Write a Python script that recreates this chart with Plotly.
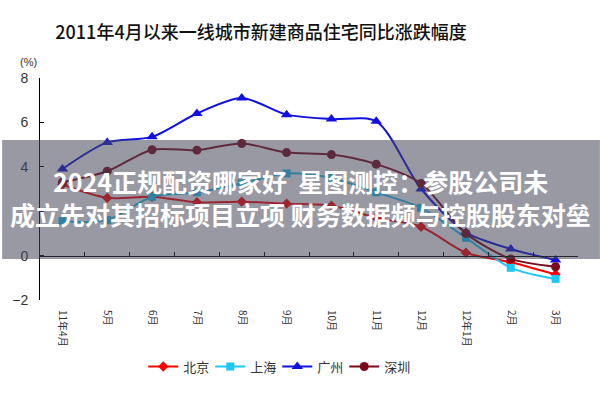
import plotly.graph_objects as go

months = ['11年4月', '5月', '6月', '7月', '8月', '9月', '10月', '11月', '12月', '12年1月', '2月', '3月']
beijing = [3.2, 2.6, 2.65, 2.4, 2.43, 2.34, 2.25, 1.7, 1.3, 0.13, -0.3, -0.85]
shanghai = [1.55, 1.6, 2.65, 2.85, 3.25, 3.7, 3.5, 2.85, 2.15, 0.8, -0.55, -1.05]
guangzhou = [3.9, 5.1, 5.35, 6.4, 7.1, 6.35, 6.15, 6.05, 3.0, 1.05, 0.3, -0.2]
shenzhen = [3.3, 3.8, 4.77, 4.75, 5.05, 4.64, 4.55, 4.12, 3.25, 1.0, -0.15, -0.5]
y_ticks = [-2, 0, 2, 4, 6, 8]
y_tick_labels = ['−2', '0', '', '4', '6', '8']

title_text = '2011年4月以来一线城市新建商品住宅同比涨跌幅度'
banner_lines = ['2024正规配资哪家好  星图测控：参股公司未',
                '成立先对其招标项目立项 财务数据频与控股股东对垒']

CJK = 'Noto Sans CJK SC'

fig = go.Figure()
series = [
    ('北京', beijing, '#ff0000', 'diamond', 8),
    ('上海', shanghai, '#1ec8f5', 'square', 8),
    ('广州', guangzhou, '#1010e0', 'triangle-up', 10),
    ('深圳', shenzhen, '#7a0a1a', 'circle', 9),
]
for name, vals, color, sym, size in series:
    fig.add_trace(go.Scatter(
        x=months, y=vals, name=name, mode='lines+markers',
        line=dict(color=color, width=2, shape='spline', smoothing=0.8),
        marker=dict(symbol=sym, size=size, color=color),
    ))

# dummy trace to host the zero-line axis with tick marks
fig.add_trace(go.Scatter(x=[None], y=[None], xaxis='x2', yaxis='y',
                         showlegend=False, hoverinfo='skip'))

n = len(months)
fig.update_layout(
    width=600, height=400,
    margin=dict(l=38, r=22, t=78, b=100),
    paper_bgcolor='white', plot_bgcolor='white',
    font=dict(family=CJK, color='#333'),
    title=dict(text=title_text, x=0.435, xanchor='center', y=0.9175, yanchor='middle',
               font=dict(family=CJK, size=18, color='#111', weight=500)),
    xaxis=dict(type='category', range=[-0.5, n - 0.5], showline=False, ticks='',
               tickangle=90, tickfont=dict(size=10, family=CJK, color='#333'),
               ticklabelstandoff=9, showgrid=False, zeroline=False),
    xaxis2=dict(overlaying='x', anchor='free', position=0.2, range=[-0.5, n - 0.5],
                showline=True, linecolor='black', linewidth=1, ticks='inside', ticklen=4,
                tickcolor='black', tickvals=[i - 0.5 for i in range(n + 1)],
                showticklabels=False, showgrid=False, zeroline=False),
    yaxis=dict(range=[-2, 8], tickvals=y_ticks, ticktext=y_tick_labels, showline=True,
               linecolor='black', linewidth=1,
               ticks='inside', ticklen=4, tickcolor='black', showgrid=False, zeroline=False,
               tickfont=dict(size=14, family='Liberation Sans', color='#333'),
               ticklabelstandoff=8),
    legend=dict(orientation='h', x=0.441, xanchor='center', y=-0.30, yanchor='middle',
                entrywidth=22, entrywidthmode='pixels',
                font=dict(size=13, family=CJK, color='#333'), bgcolor='rgba(0,0,0,0)'),
    shapes=[dict(type='rect', xref='paper', yref='paper', x0=-0.0704, x1=1.0407,
                 y0=0.1847, y1=0.7207, fillcolor='rgba(70,70,90,0.55)', line=dict(width=0),
                 layer='above')],
    annotations=[
        dict(text='(%)', xref='paper', yref='paper', x=-0.022, y=1.072, showarrow=False,
             xanchor='center', yanchor='middle',
             font=dict(size=11, family='Liberation Sans', color='#333')),
        dict(text='<b>' + banner_lines[0] + '</b>', xref='paper', yref='paper', x=0.485, y=0.536,
             xanchor='center', yanchor='middle',
             showarrow=False, font=dict(size=25, family=CJK, color='white')),
        dict(text='<b>' + banner_lines[1] + '</b>', xref='paper', yref='paper', x=0.485, y=0.387,
             xanchor='center', yanchor='middle',
             showarrow=False, font=dict(size=25, family=CJK, color='white')),
    ],
)

fig.write_html('out.html', config={'displayModeBar': False},
               post_script="document.body.style.margin='0';document.body.style.padding='0';")
